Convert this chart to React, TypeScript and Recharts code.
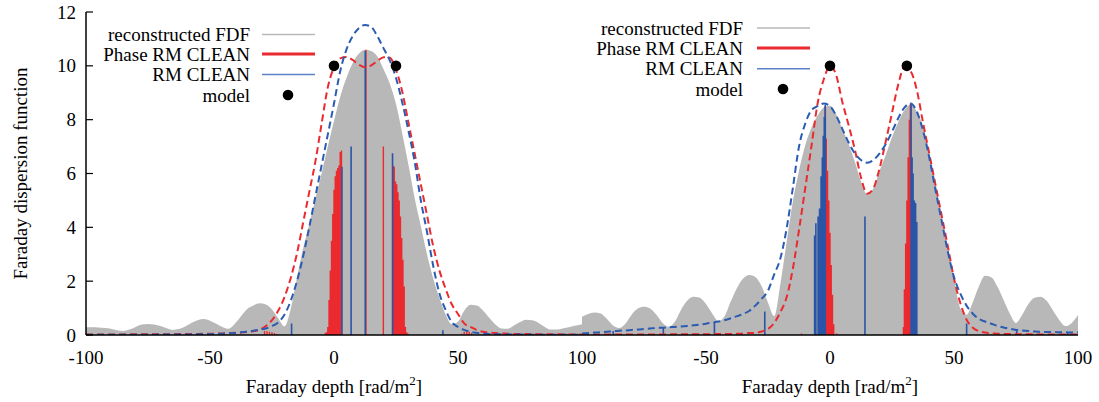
import React from 'react';
import { ComposedChart, Area, Line, Scatter, XAxis, YAxis } from 'recharts';

// Faraday depth grid shared by the smooth curves
const depthGrid = [
  -100, -97.5, -95, -92.5, -90, -87.5, -85, -82.5, -80, -77.5,
  -75, -72.5, -70, -67.5, -65, -62.5, -60, -57.5, -55, -52.5,
  -50, -47.5, -45, -42.5, -40, -37.5, -35, -32.5, -30, -27.5,
  -25, -22.5, -20, -17.5, -15, -12.5, -10, -7.5, -5, -2.5,
  0, 2.5, 5, 7.5, 10, 12.5, 15, 17.5, 20, 22.5,
  25, 27.5, 30, 32.5, 35, 37.5, 40, 42.5, 45, 47.5,
  50, 52.5, 55, 57.5, 60, 62.5, 65, 67.5, 70, 72.5,
  75, 77.5, 80, 82.5, 85, 87.5, 90, 92.5, 95, 97.5,
  100,
];

// left panel
const leftFdf = [
  0.29, 0.29, 0.28, 0.26, 0.23, 0.18, 0.15, 0.2, 0.3, 0.39,
  0.41, 0.39, 0.33, 0.25, 0.19, 0.22, 0.32, 0.45, 0.55, 0.59,
  0.53, 0.42, 0.3, 0.23, 0.42, 0.7, 0.97, 1.1, 1.18, 1.13,
  0.95, 0.62, 0.32, 0.95, 2.1, 3.2, 4.1, 5.06, 6.0, 7.0,
  7.95, 8.85, 9.55, 10.1, 10.45, 10.6, 10.55, 10.35, 9.87, 9.33,
  8.58, 7.5, 6.33, 5.1, 4.05, 3.0, 2.1, 1.38, 0.76, 0.4,
  0.5, 0.9, 1.12, 1.1, 0.92, 0.65, 0.4, 0.24, 0.23, 0.35,
  0.48, 0.57, 0.55, 0.45, 0.3, 0.2, 0.2, 0.25, 0.3, 0.35,
  0.4,
];
const leftPhaseRestored = [
  0.02, 0.02, 0.02, 0.02, 0.02, 0.02, 0.02, 0.03, 0.03, 0.03,
  0.03, 0.03, 0.03, 0.03, 0.03, 0.04, 0.04, 0.04, 0.04, 0.05,
  0.05, 0.05, 0.06, 0.07, 0.08, 0.09, 0.11, 0.14, 0.2, 0.33,
  0.55, 0.9, 1.4, 2.1, 3.0, 4.15, 5.3, 6.45, 7.85, 9.2,
  9.95, 10.28, 10.33, 10.22, 10.05, 9.95, 10.02, 10.18, 10.32, 10.3,
  9.85, 9.05, 7.9, 6.75, 5.6, 4.45, 3.3, 2.4, 1.72, 1.14,
  0.78, 0.43, 0.3, 0.19, 0.12, 0.09, 0.07, 0.06, 0.05, 0.04,
  0.04, 0.04, 0.04, 0.03, 0.03, 0.03, 0.03, 0.02, 0.02, 0.02,
  0.02,
];
const leftRmRestored = [
  0.01, 0.01, 0.01, 0.01, 0.01, 0.01, 0.01, 0.01, 0.01, 0.01,
  0.01, 0.01, 0.02, 0.02, 0.02, 0.02, 0.02, 0.02, 0.03, 0.03,
  0.03, 0.04, 0.05, 0.06, 0.07, 0.1, 0.13, 0.16, 0.2, 0.24,
  0.33, 0.47, 0.75, 1.26, 1.98, 2.9, 4.0, 5.15, 6.3, 7.45,
  8.6, 9.8, 10.6, 11.1, 11.4, 11.52, 11.45, 11.1, 10.65, 10.2,
  9.55, 8.65, 7.6, 6.45, 5.0, 3.83, 2.57, 1.55, 0.93, 0.48,
  0.3, 0.19, 0.12, 0.08, 0.05, 0.04, 0.03, 0.03, 0.02, 0.02,
  0.02, 0.02, 0.01, 0.01, 0.01, 0.01, 0.01, 0.01, 0.01, 0.01,
  0.01,
];
const leftPhaseX = [
  -28, -27, -26, -25, -24, -23,
  -3.5, -3, -2.5, -2, -1.5, -1, -0.5, 0, 0.5, 1, 1.5, 2, 2.5, 3,
  12.9, 19.9,
  23.8, 24.3, 24.8, 25.3, 25.8, 26.3, 26.8, 27.3, 27.8, 28.3, 28.8, 29.3, 29.8,
  51.5, 52.5, 53.5, 54.5, 55.5,
];
const leftPhaseY = [
  0.15, 0.14, 0.12, 0.1, 0.07, 0.04,
  0.08, 0.1, 0.3, 1.3, 2.4, 3.5, 4.5, 5.4, 5.9, 6.1, 6.2, 6.3, 6.8, 6.85,
  10.6, 7.0,
  6.3, 6.25, 5.7, 5.6, 5.3, 5.0, 4.4, 3.6, 2.8, 1.8, 0.3, 0.1, 0.06,
  0.05, 0.12, 0.15, 0.12, 0.08,
];
const leftRmX = [-17.1, 3.2, 6.9, 12.6, 23.6, 43.9];
const leftRmY = [0.43, 6.25, 7.0, 10.55, 6.75, 0.18];
const leftModelX = [0, 25];
const leftModelY = [10, 10];

// right panel
const rightFdf = [
  0.68, 0.78, 0.84, 0.8, 0.6, 0.35, 0.26, 0.42, 0.75, 0.98,
  1.05, 0.98, 0.75, 0.45, 0.31, 0.5, 0.95, 1.28, 1.42, 1.38,
  1.15, 0.8, 0.52, 0.7, 1.25, 1.75, 2.1, 2.23, 2.15, 1.8,
  1.2, 0.7, 1.9, 3.45, 4.95, 6.1, 7.05, 7.7, 8.15, 8.45,
  8.52, 8.2, 7.65, 7.1, 6.45, 5.7, 5.22, 5.45, 6.1, 6.7,
  7.35, 7.9, 8.35, 8.55, 8.3, 7.75, 6.8, 5.7, 4.45, 3.3,
  2.1, 1.0, 0.75, 1.2, 1.8, 2.2, 2.15, 1.8, 1.3, 0.8,
  0.45, 0.75, 1.15, 1.38, 1.42, 1.25, 0.9, 0.55, 0.33, 0.45,
  0.74,
];
const rightPhaseRestored = [
  0.02, 0.02, 0.02, 0.02, 0.02, 0.02, 0.02, 0.02, 0.02, 0.02,
  0.02, 0.02, 0.02, 0.02, 0.02, 0.03, 0.03, 0.03, 0.03, 0.03,
  0.03, 0.03, 0.04, 0.04, 0.04, 0.05, 0.05, 0.07, 0.08, 0.13,
  0.22, 0.45, 0.85, 1.4, 2.45, 3.9, 5.45, 7.0, 8.6, 9.5,
  10.0, 9.65, 8.65, 7.8, 6.9, 5.85, 5.25, 5.45, 6.2, 7.2,
  8.25, 9.3, 9.95, 9.8, 9.1, 7.9, 6.75, 5.6, 4.45, 3.3,
  2.1, 1.2, 0.58, 0.28, 0.14, 0.09, 0.06, 0.05, 0.04, 0.04,
  0.03, 0.03, 0.03, 0.03, 0.02, 0.02, 0.02, 0.02, 0.02, 0.02,
  0.02,
];
const rightRmRestored = [
  0.06, 0.07, 0.09, 0.1, 0.12, 0.14, 0.16, 0.17, 0.19, 0.2,
  0.22, 0.24, 0.26, 0.27, 0.29, 0.3, 0.32, 0.33, 0.36, 0.39,
  0.42, 0.46, 0.5, 0.55, 0.62, 0.7, 0.78, 0.9, 1.1, 1.35,
  1.65, 2.25, 2.85, 3.95, 5.45, 7.0, 7.85, 8.35, 8.5, 8.6,
  8.5, 8.15, 7.65, 7.15, 6.75, 6.5, 6.4, 6.5, 6.75, 7.1,
  7.55, 8.05, 8.45, 8.6, 8.3, 7.6, 6.6, 5.4, 4.25, 3.1,
  2.15, 1.55, 1.1, 0.8, 0.6, 0.5, 0.42, 0.34, 0.28, 0.23,
  0.19, 0.17, 0.15, 0.13, 0.12, 0.11, 0.11, 0.1, 0.1, 0.09,
  0.09,
];
const rightPhaseX = [-11.5, -2.4, -2, -1.5, -1, -0.5, 0, 0.5, 1, 1.5, 2.7, 29.6, 30, 30.5, 31, 31.5, 32, 32.4];
const rightPhaseY = [0.06, 0.3, 8.5, 7.3, 6.1, 5.0, 3.8, 2.6, 1.5, 0.4, 0.06, 0.3, 1.7, 3.4, 5.0, 6.6, 8.0, 8.6];
const rightRmX = [
  -87.4, -67.2, -46.6, -26.3,
  -6.2, -5.7, -4.8, -4.2, -3.6, -3.1, -2.7, -2.3, -1.9,
  14.1,
  32.7, 33.1, 33.5, 34.0, 34.5, 35.0,
  55.1, 75.3, 95.8,
];
const rightRmY = [
  0.15, 0.3, 0.46, 0.87,
  3.7, 4.15, 4.4, 4.7, 5.9, 6.6, 7.4, 8.1, 8.55,
  4.4,
  8.6, 6.6, 6.0, 5.0, 4.9, 4.2,
  0.43, 0.19, 0.1,
];
const rightModelX = [0, 31];
const rightModelY = [10, 10];

const xTicks = [-100, -50, 0, 50, 100];
const yTicks = [0, 2, 4, 6, 8, 10, 12];
const legendLabels = ['reconstructed FDF', 'Phase RM CLEAN', 'RM CLEAN', 'model'];

const FONT = '"Liberation Serif", "Times New Roman", serif';
const GRAY = '#b8b8b8';
const RED = '#ea2a2e';
const BLUE = '#2a55a6';
const BLUE_DASH = '#2b5cb2';
const BLUE_KEY = '#5b82c8';
const txt = { fontFamily: FONT, fontSize: 19, fill: '#000' };

const curveRows = (fdf: number[], phase: number[], rm: number[]) =>
  depthGrid.map((x, i) => ({ x, fdf: fdf[i], phase: phase[i], rm: rm[i] }));

// each clean component becomes a vertical stick: 0 -> height, then a gap
const stickRows = (xs: number[], hs: number[]) =>
  xs.flatMap((x, i) => [{ x, y: 0 }, { x, y: hs[i] }, { x, y: null }]);

const pointRows = (xs: number[], ys: number[]) => xs.map((x, i) => ({ x, y: ys[i] }));

const bottomTick = (hidden: number[]) => (p: any) => (
  <g>
    {hidden.includes(p.payload.value) ? null : (
      <text x={p.x} y={p.y + 29} textAnchor="middle" {...txt}>{p.payload.value}</text>
    )}
  </g>
);
const topTick = (p: any) => (
  <line x1={p.x} x2={p.x} y1={p.y} y2={p.y + 7} stroke="#000" strokeWidth={1.2} />
);
const leftTick = (withLabel: boolean) => (p: any) => (
  <g>
    <line x1={p.x} x2={p.x + 7} y1={p.y} y2={p.y} stroke="#000" strokeWidth={1.2} />
    {withLabel && (
      <text x={p.x - 10} y={p.y} dy="0.35em" textAnchor="end" {...txt}>{p.payload.value}</text>
    )}
  </g>
);
const rightTick = (p: any) => (
  <line x1={p.x} x2={p.x - 7} y1={p.y} y2={p.y} stroke="#000" strokeWidth={1.2} />
);

const xLabel = (p: any) => {
  const vb = p.viewBox;
  return (
    <text x={vb.x + vb.width / 2} y={vb.y + 58} textAnchor="middle" {...txt}>
      Faraday depth [rad/m<tspan dy={-8} fontSize={13}>2</tspan>
      <tspan dy={8}>]</tspan>
    </text>
  );
};
const yLabel = (p: any) => {
  const vb = p.viewBox;
  const cx = 20;
  const cy = vb.y + vb.height / 2;
  return (
    <text x={cx} y={cy} dy="0.35em" textAnchor="middle" transform={`rotate(-90 ${cx} ${cy})`} {...txt}>
      Faraday dispersion function
    </text>
  );
};

const frame = { stroke: '#000', strokeWidth: 1.5 };

interface PanelProps {
  left: number;
  width: number;
  margin: { top: number; right: number; bottom: number; left: number };
  yAxisWidth: number;
  labels: boolean;
  hiddenX: number[];
  fdf: number[];
  phase: number[];
  rm: number[];
  phaseX: number[];
  phaseY: number[];
  rmX: number[];
  rmY: number[];
  modelX: number[];
  modelY: number[];
}

const Panel: React.FC<PanelProps> = (p) => {
  const rows = curveRows(p.fdf, p.phase, p.rm);
  return (
    <div style={{ position: 'absolute', left: p.left, top: 0 }}>
      <ComposedChart width={p.width} height={402} margin={p.margin}>
        <XAxis
          dataKey="x" type="number" domain={[-100, 100]} ticks={xTicks} interval={0}
          allowDataOverflow height={67} axisLine={frame} tickLine={false} tickSize={0} tickMargin={0}
          tick={bottomTick(p.hiddenX)} label={xLabel}
        />
        <XAxis
          xAxisId="t" orientation="top" dataKey="x" type="number" domain={[-100, 100]} ticks={xTicks}
          interval={0} allowDataOverflow height={0} axisLine={frame} tickLine={false} tickSize={0} tickMargin={0}
          tick={topTick}
        />
        <YAxis
          type="number" domain={[0, 12]} ticks={yTicks} interval={0} allowDataOverflow width={p.yAxisWidth}
          axisLine={frame} tickLine={false} tickSize={0} tickMargin={0}
          tick={leftTick(p.labels)} label={p.labels ? yLabel : undefined}
        />
        <YAxis
          yAxisId="m" orientation="right" type="number" domain={[0, 12]} ticks={yTicks} interval={0}
          allowDataOverflow width={0} axisLine={frame} tickLine={false} tickSize={0} tickMargin={0}
          tick={rightTick}
        />
        <Area data={rows} dataKey="fdf" type="monotone" stroke="none" fill={GRAY} fillOpacity={1} isAnimationActive={false} />
        <Line data={stickRows(p.phaseX, p.phaseY)} dataKey="y" type="linear" stroke={RED} strokeWidth={1.4} dot={false} activeDot={false} connectNulls={false} isAnimationActive={false} />
        <Line data={stickRows(p.rmX, p.rmY)} dataKey="y" type="linear" stroke={BLUE} strokeWidth={1.6} dot={false} activeDot={false} connectNulls={false} isAnimationActive={false} />
        <Line data={rows} dataKey="phase" type="monotone" stroke={RED} strokeWidth={2} strokeDasharray="7 4" dot={false} activeDot={false} isAnimationActive={false} />
        <Line data={rows} dataKey="rm" type="monotone" stroke={BLUE_DASH} strokeWidth={2} strokeDasharray="7 4" dot={false} activeDot={false} isAnimationActive={false} />
        <Scatter
          data={pointRows(p.modelX, p.modelY)} dataKey="y" isAnimationActive={false}
          shape={(s: any) => <circle cx={s.cx} cy={s.cy} r={5.3} fill="#000" />}
        />
      </ComposedChart>
    </div>
  );
};

const Key: React.FC<{ textRight: number; lineStart: number; rows: number[] }> = ({ textRight, lineStart, rows }) => (
  <g>
    {legendLabels.map((label, i) => (
      <text key={label} x={textRight} y={rows[i]} dy="0.35em" textAnchor="end" {...txt}>{label}</text>
    ))}
    <line x1={lineStart} x2={lineStart + 53} y1={rows[0]} y2={rows[0]} stroke={GRAY} strokeWidth={1.5} />
    <line x1={lineStart} x2={lineStart + 53} y1={rows[1]} y2={rows[1]} stroke={RED} strokeWidth={2.8} />
    <line x1={lineStart} x2={lineStart + 53} y1={rows[2]} y2={rows[2]} stroke={BLUE_KEY} strokeWidth={1.6} />
    <circle cx={lineStart + 26} cy={rows[3]} r={5.3} fill="#000" />
  </g>
);

export default function App() {
  return (
    <div style={{ position: 'absolute', left: 0, top: 0, width: 1099, height: 402, background: '#fff', fontFamily: FONT }}>
      <Panel
        left={0} width={620} margin={{ top: 12, right: 38, bottom: 0, left: 0 }} yAxisWidth={86} labels hiddenX={[]}
        fdf={leftFdf} phase={leftPhaseRestored} rm={leftRmRestored}
        phaseX={leftPhaseX} phaseY={leftPhaseY} rmX={leftRmX} rmY={leftRmY}
        modelX={leftModelX} modelY={leftModelY}
      />
      <Panel
        left={580} width={519} margin={{ top: 12, right: 21, bottom: 0, left: 2 }} yAxisWidth={0} labels={false} hiddenX={[-100]}
        fdf={rightFdf} phase={rightPhaseRestored} rm={rightRmRestored}
        phaseX={rightPhaseX} phaseY={rightPhaseY} rmX={rightRmX} rmY={rightRmY}
        modelX={rightModelX} modelY={rightModelY}
      />
      <svg width={1099} height={402} style={{ position: 'absolute', left: 0, top: 0, pointerEvents: 'none' }}>
        <Key textRight={250} lineStart={262} rows={[34.5, 54, 74.5, 95]} />
        <Key textRight={743} lineStart={757} rows={[28, 48, 68.8, 89]} />
      </svg>
    </div>
  );
}
